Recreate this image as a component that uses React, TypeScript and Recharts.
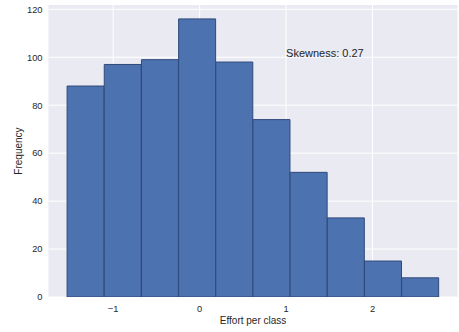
import React from 'react';
import { BarChart, Bar, XAxis, YAxis, CartesianGrid, ReferenceDot } from 'recharts';

// Bin centers (Effort per class) and their frequencies
const binCenters = [-1.318, -0.888, -0.458, -0.028, 0.402, 0.832, 1.262, 1.692, 2.122, 2.552];
const frequencies = [88, 97, 99, 116, 98, 74, 52, 33, 15, 8];
const xTicks = [-1, 0, 1, 2];
const yTicks = [0, 20, 40, 60, 80, 100, 120];
const xDomain = [-1.748, 2.984];
const yDomain = [0, 121.8];
const skewText = 'Skewness: 0.27';
const skewPos = { x: 1, y: 100 };

const data = binCenters.map((c, i) => ({ center: c, count: frequencies[i] }));

const FONT = '"Liberation Sans", Arial, sans-serif';
const TEXT = '#262626';

const fmt = (v: number) => (v < 0 ? '\u2212' + Math.abs(v) : String(v));

export default function App() {
  return (
    <div style={{ position: 'absolute', left: 0, top: 0 }}>
      <BarChart
        width={459}
        height={332}
        data={data}
        margin={{ top: 5, right: 1.4, bottom: 0, left: 0 }}
        barCategoryGap={0}
        barGap={0}
        style={{ fontFamily: FONT }}
      >
        <CartesianGrid fill="#EAEAF2" stroke="#FFFFFF" strokeWidth={1} verticalValues={xTicks} horizontalValues={yTicks} />
        <XAxis
          dataKey="center"
          type="number"
          domain={xDomain}
          ticks={xTicks}
          allowDataOverflow
          axisLine={false}
          tickLine={false}
          tickSize={0}
          tickMargin={8}
          height={35}
          tickFormatter={fmt}
          tick={{ fill: TEXT, fontSize: 9.3, fontFamily: FONT }}
          label={(p: any) => {
            const vb = p.viewBox || {};
            return (
              <text x={vb.x + vb.width / 2} y={vb.y + 27} textAnchor="middle" fill={TEXT} fontSize={10} fontFamily={FONT}>
                Effort per class
              </text>
            );
          }}
        />
        <YAxis
          type="number"
          domain={yDomain}
          ticks={yTicks}
          allowDataOverflow
          axisLine={false}
          tickLine={false}
          tickSize={0}
          tickMargin={6}
          width={48.5}
          tick={{ fill: TEXT, fontSize: 9.3, fontFamily: FONT }}
          label={(p: any) => {
            const vb = p.viewBox || {};
            const cy = vb.y + vb.height / 2;
            return (
              <text x={22} y={cy} transform={`rotate(-90 22 ${cy})`} textAnchor="middle" fill={TEXT} fontSize={10} fontFamily={FONT}>
                Frequency
              </text>
            );
          }}
        />
        <Bar dataKey="count" fill="#4C72B0" stroke="#30497A" strokeWidth={1} isAnimationActive={false} />
        <ReferenceDot
          x={skewPos.x}
          y={skewPos.y}
          r={0}
          fill="none"
          stroke="none"
          label={(p: any) => {
            const vb = p.viewBox || {};
            return (
              <text x={vb.x} y={vb.y} fill={TEXT} fontSize={11} fontFamily={FONT}>
                {skewText}
              </text>
            );
          }}
        />
      </BarChart>
    </div>
  );
}
